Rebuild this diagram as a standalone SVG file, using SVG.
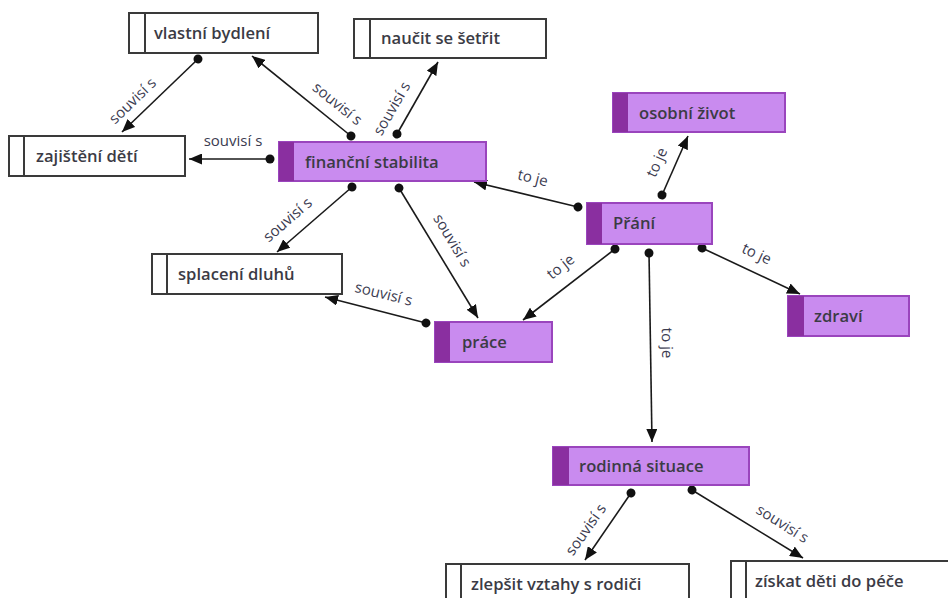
<svg xmlns="http://www.w3.org/2000/svg" width="948" height="598" viewBox="0 0 948 598">
<style>
.w rect.b{fill:#fff;stroke:#3a3a3a;stroke-width:2}
.w line.s{stroke:#3a3a3a;stroke-width:2}
.p rect.b{fill:#c98bef;stroke:#9a45bd;stroke-width:2}
.p rect.s{fill:#8a2fa0}
.t{font-family:"Open Sans","Noto Sans",sans-serif;font-size:16.6px;fill:#3b3b45;font-weight:600}
.l{font-family:"Open Sans","Noto Sans",sans-serif;font-size:15px;fill:#3b3b50;text-anchor:middle;dominant-baseline:central}
.c{stroke:#1a1a1a;stroke-width:1.6;fill:none;marker-start:url(#dot);marker-end:url(#arr)}
</style>
<defs>
<marker id="arr" markerUnits="userSpaceOnUse" markerWidth="13" markerHeight="11" refX="13" refY="5.5" orient="auto"><path d="M0,0 L13,5.5 L0,11 z" fill="#111"/></marker>
<marker id="dot" markerUnits="userSpaceOnUse" markerWidth="10" markerHeight="10" refX="5" refY="5" orient="auto"><circle cx="5" cy="5" r="4.5" fill="#111"/></marker>
</defs>
<rect width="948" height="598" fill="#fff"/>
<g id="connectors">
<line class="c" x1="198" y1="59" x2="122" y2="132"/>
<line class="c" x1="351" y1="136" x2="252" y2="56"/>
<line class="c" x1="397" y1="134" x2="438" y2="62"/>
<line class="c" x1="270" y1="159" x2="189" y2="159"/>
<line class="c" x1="352" y1="187" x2="277" y2="252"/>
<line class="c" x1="399" y1="188" x2="478" y2="318"/>
<line class="c" x1="426" y1="323" x2="325" y2="297"/>
<line class="c" x1="578" y1="207" x2="474" y2="182"/>
<line class="c" x1="662" y1="195" x2="688" y2="136"/>
<line class="c" x1="615" y1="249" x2="523" y2="320"/>
<line class="c" x1="649" y1="253" x2="652" y2="442"/>
<line class="c" x1="702" y1="248" x2="800" y2="294"/>
<line class="c" x1="631" y1="493" x2="585" y2="560"/>
<line class="c" x1="692" y1="490" x2="803" y2="558"/>
<text class="l" transform="translate(132,100) rotate(-44)">souvisí s</text>
<text class="l" transform="translate(338,103) rotate(39)">souvisí s</text>
<text class="l" transform="translate(391,108) rotate(-60)">souvisí s</text>
<text class="l" x="233" y="140">souvisí s</text>
<text class="l" transform="translate(287,219) rotate(-41)">souvisí s</text>
<text class="l" transform="translate(453,240) rotate(59)">souvisí s</text>
<text class="l" transform="translate(384,293) rotate(14)">souvisí s</text>
<text class="l" transform="translate(533,177) rotate(14)">to je</text>
<text class="l" transform="translate(656,162) rotate(-66)">to je</text>
<text class="l" transform="translate(560,266) rotate(-38)">to je</text>
<text class="l" transform="translate(668,343) rotate(89)">to je</text>
<text class="l" transform="translate(757,253) rotate(25)">to je</text>
<text class="l" transform="translate(585,529) rotate(-55)">souvisí s</text>
<text class="l" transform="translate(783,523) rotate(32)">souvisí s</text>
</g>
<g id="vlastni-bydleni" class="w"><rect class="b" x="129" y="13" width="189" height="40"/><line class="s" x1="145" y1="13" x2="145" y2="53"/><text class="t" x="154" y="39">vlastní bydlení</text></g>
<g id="zajisteni-deti" class="w"><rect class="b" x="9" y="136" width="176" height="40"/><line class="s" x1="24" y1="136" x2="24" y2="176"/><text class="t" x="36" y="162">zajištění dětí</text></g>
<g id="naucit-se-setrit" class="w"><rect class="b" x="354" y="19" width="192" height="39"/><line class="s" x1="370" y1="19" x2="370" y2="58"/><text class="t" x="381" y="44">naučit se šetřit</text></g>
<g id="financni-stabilita" class="p"><rect class="b" x="279" y="142" width="207" height="39"/><rect class="s" x="279" y="142" width="15" height="39"/><text class="t" x="305" y="168">finanční stabilita</text></g>
<g id="osobni-zivot" class="p"><rect class="b" x="613" y="93" width="172" height="39"/><rect class="s" x="613" y="93" width="15" height="39"/><text class="t" x="639" y="119">osobní život</text></g>
<g id="prani" class="p"><rect class="b" x="587" y="203" width="125" height="41"/><rect class="s" x="587" y="203" width="15" height="41"/><text class="t" x="613" y="229">Přání</text></g>
<g id="splaceni-dluhu" class="w"><rect class="b" x="152" y="254" width="190" height="40"/><line class="s" x1="167" y1="254" x2="167" y2="294"/><text class="t" x="178" y="280">splacení dluhů</text></g>
<g id="prace" class="p"><rect class="b" x="435" y="322" width="117" height="40"/><rect class="s" x="435" y="322" width="15" height="40"/><text class="t" x="462" y="348">práce</text></g>
<g id="zdravi" class="p"><rect class="b" x="788" y="296" width="121" height="40"/><rect class="s" x="788" y="296" width="16" height="40"/><text class="t" x="814" y="322">zdraví</text></g>
<g id="rodinna-situace" class="p"><rect class="b" x="553" y="447" width="196" height="38"/><rect class="s" x="553" y="447" width="16" height="38"/><text class="t" x="579" y="472">rodinná situace</text></g>
<g id="zlepsit-vztahy" class="w"><rect class="b" x="446" y="564" width="243" height="40"/><line class="s" x1="461" y1="564" x2="461" y2="604"/><text class="t" x="471" y="590">zlepšit vztahy s rodiči</text></g>
<g id="ziskat-deti" class="w"><rect class="b" x="731" y="561" width="230" height="40"/><line class="s" x1="746" y1="561" x2="746" y2="601"/><text class="t" x="755" y="587">získat děti do péče</text></g>
</svg>
